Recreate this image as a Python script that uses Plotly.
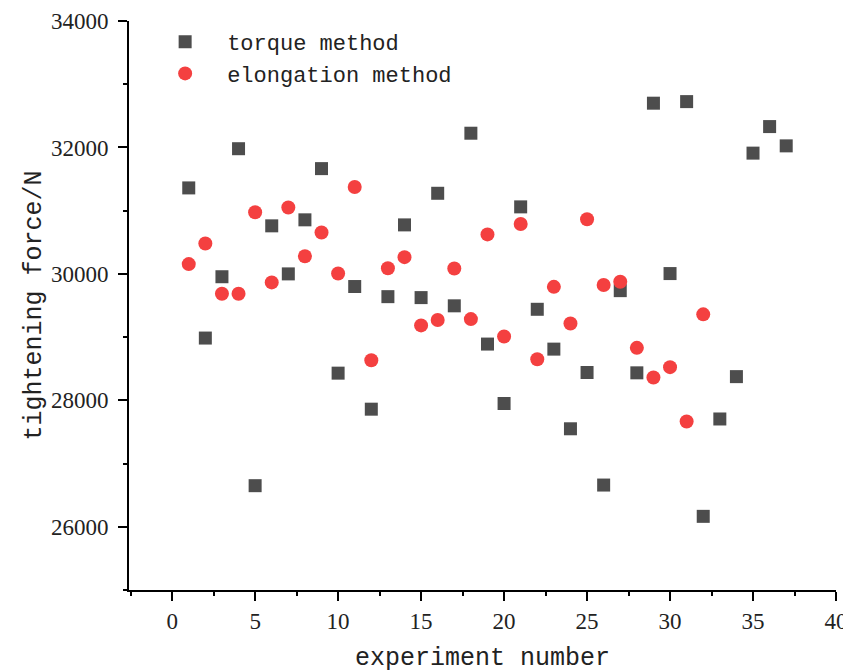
import plotly.graph_objects as go

experiment_torque = list(range(1, 38))
torque_force = [31360, 28985, 29955, 31980, 26650, 30760, 30000, 30855, 31665, 28430,
                29800, 27860, 29640, 30775, 29625, 31275, 29495, 32225, 28890, 27950,
                31060, 29440, 28810, 27550, 28440, 26660, 29735, 28435, 32700, 30005,
                32725, 26165, 27705, 28375, 31910, 32330, 32025]

experiment_elong = list(range(1, 33))
elong_force = [30155, 30480, 29685, 29685, 30975, 29865, 31050, 30280, 30655, 30005,
               31375, 28635, 30090, 30265, 29185, 29270, 30085, 29285, 30625, 29010,
               30790, 28650, 29795, 29215, 30865, 29825, 29875, 28830, 28360, 28525,
               27665, 29360]

x_ticks = [0, 5, 10, 15, 20, 25, 30, 35, 40]
y_ticks = [26000, 28000, 30000, 32000, 34000]
x_title = "experiment number"
y_title = "tightening force/N"

fig = go.Figure()
fig.add_trace(go.Scatter(
    x=experiment_torque, y=torque_force, mode="markers", name="torque method",
    marker=dict(symbol="square", size=13, color="#4d4d4d", line=dict(width=0))))
fig.add_trace(go.Scatter(
    x=experiment_elong, y=elong_force, mode="markers", name="elongation method",
    marker=dict(symbol="circle", size=14, color="#f44040", line=dict(width=0))))

tick_font = dict(family="Liberation Serif", size=23, color="#222")
title_font = dict(family="Liberation Mono", size=25, color="#222")

# page body has an 8px margin, so the figure is sized/offset to compensate
fig.update_layout(
    width=843, height=664,
    margin=dict(l=121, r=15, t=13, b=82),
    paper_bgcolor="white", plot_bgcolor="white",
    showlegend=True,
    legend=dict(x=0.02, y=1.0, xanchor="left", yanchor="top",
                font=dict(family="Liberation Mono", size=22, color="#222"),
                bgcolor="rgba(0,0,0,0)", tracegroupgap=0, itemwidth=74),
    xaxis=dict(range=[-2.6, 40], tickvals=x_ticks, ticktext=[str(v) for v in x_ticks],
               automargin=False,
               showgrid=False, zeroline=False, showline=True, linecolor="black", linewidth=2,
               ticks="outside", ticklen=9, tickwidth=2, tickcolor="black",
               minor=dict(dtick=2.5, tick0=0, ticks="outside", ticklen=4, tickwidth=2, tickcolor="black"),
               tickfont=tick_font, ticklabelstandoff=0),
    yaxis=dict(range=[25000, 34000], tickvals=y_ticks, ticktext=[str(v) for v in y_ticks],
               automargin=False,
               showgrid=False, zeroline=False, showline=True, linecolor="black", linewidth=2,
               ticks="outside", ticklen=9, tickwidth=2, tickcolor="black",
               minor=dict(dtick=1000, tick0=0, ticks="outside", ticklen=4, tickwidth=2, tickcolor="black"),
               tickfont=tick_font, ticklabelstandoff=5),
    annotations=[
        dict(text=x_title, xref="paper", yref="paper", x=0.5, y=0, yshift=-68,
             xanchor="center", yanchor="middle", showarrow=False, font=title_font),
        dict(text=y_title, xref="paper", yref="paper", x=0, y=0.5, xshift=-95,
             xanchor="center", yanchor="middle", textangle=-90, showarrow=False, font=title_font),
    ],
)

fig.write_html("out.html")
